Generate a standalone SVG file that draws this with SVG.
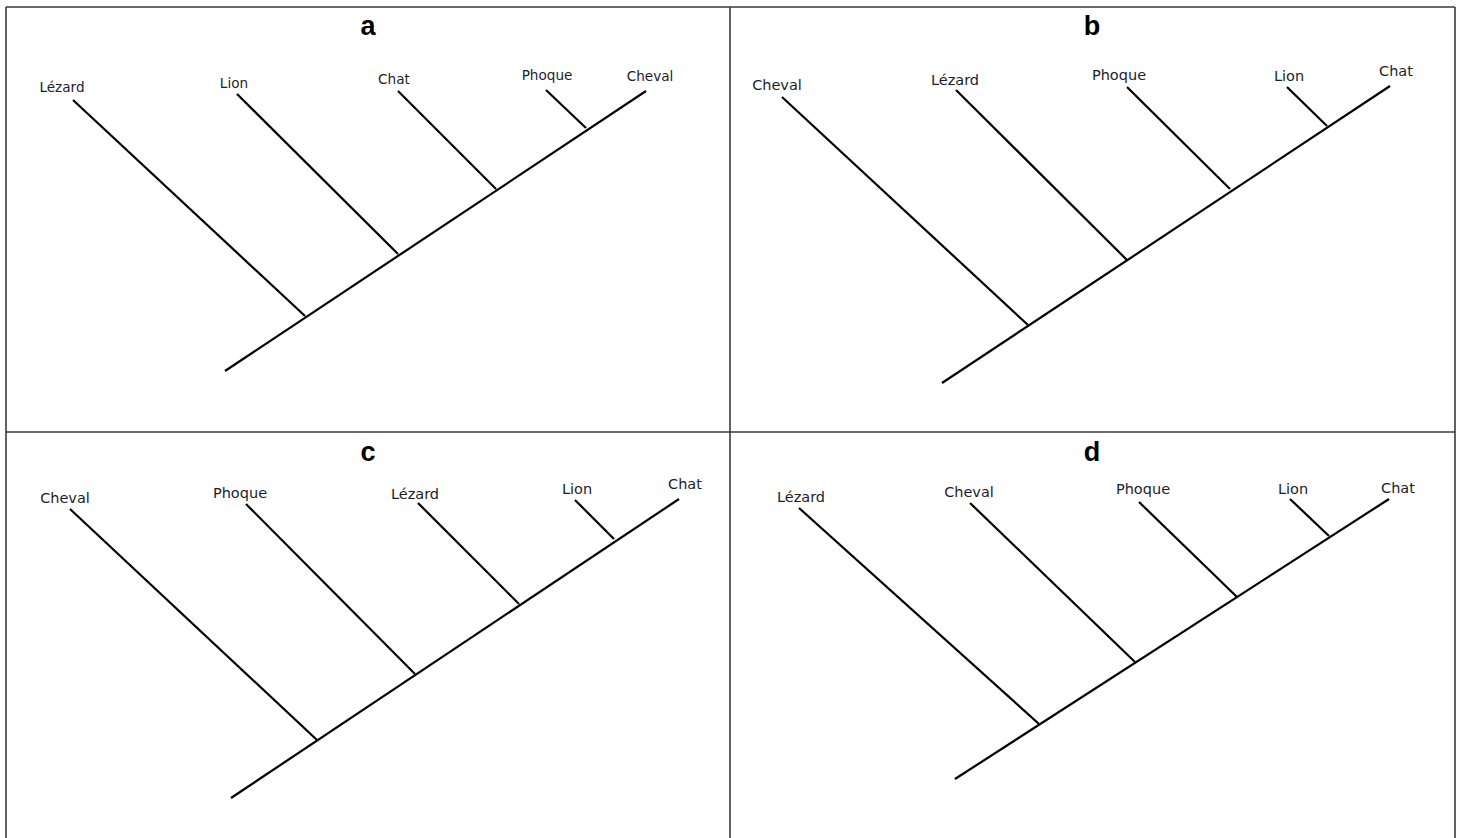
<svg xmlns="http://www.w3.org/2000/svg" width="1461" height="838" viewBox="0 0 1461 838">
  <style>
    .grid { stroke: #3a3a3a; stroke-width: 1.6; fill: none; }
    .br { stroke: #000; stroke-width: 2.2; stroke-linecap: butt; fill: none; }
    .lbl { font-family: "DejaVu Sans", Verdana, sans-serif; fill: #1c1c2a; text-anchor: middle; }
    .s13 { font-size: 13.6px; }
    .s14 { font-size: 14.5px; }
    .ttl { font-family: "Liberation Sans", Arial, sans-serif; font-weight: bold; font-size: 27px; fill: #000; text-anchor: middle; }
  </style>
  <rect width="1461" height="838" fill="#fff"/>

  <!-- table frame -->
  <g id="frame" class="grid">
    <line x1="6" y1="7" x2="1455" y2="7"/>
    <line x1="6" y1="432" x2="1455" y2="432"/>
    <line x1="6" y1="7" x2="6" y2="838"/>
    <line x1="730" y1="7" x2="730" y2="838"/>
    <line x1="1455" y1="7" x2="1455" y2="838"/>
  </g>

  <!-- tree a -->
  <g id="tree-a">
    <text class="ttl" x="368" y="35">a</text>
    <g class="br">
      <line x1="225" y1="371" x2="646" y2="91"/>
      <line x1="73" y1="100" x2="305" y2="316"/>
      <line x1="237" y1="94" x2="398" y2="254"/>
      <line x1="398" y1="91" x2="496" y2="189"/>
      <line x1="546" y1="90" x2="586" y2="128"/>
    </g>
    <text class="lbl s13" x="62" y="92">Lézard</text>
    <text class="lbl s13" x="234" y="88">Lion</text>
    <text class="lbl s13" x="394" y="84">Chat</text>
    <text class="lbl s13" x="547" y="80">Phoque</text>
    <text class="lbl s13" x="650" y="81">Cheval</text>
  </g>

  <!-- tree b -->
  <g id="tree-b">
    <text class="ttl" x="1092" y="35">b</text>
    <g class="br">
      <line x1="942" y1="383" x2="1390" y2="86"/>
      <line x1="782" y1="97" x2="1028" y2="325"/>
      <line x1="956" y1="90" x2="1127" y2="260"/>
      <line x1="1127" y1="87" x2="1230" y2="189"/>
      <line x1="1287" y1="87" x2="1327" y2="126"/>
    </g>
    <text class="lbl s14" x="777" y="90">Cheval</text>
    <text class="lbl s14" x="955" y="85">Lézard</text>
    <text class="lbl s14" x="1119" y="80">Phoque</text>
    <text class="lbl s14" x="1289" y="81">Lion</text>
    <text class="lbl s14" x="1396" y="76">Chat</text>
  </g>

  <!-- tree c -->
  <g id="tree-c">
    <text class="ttl" x="368" y="461">c</text>
    <g class="br">
      <line x1="231" y1="798" x2="679" y2="499"/>
      <line x1="70" y1="509" x2="317" y2="740"/>
      <line x1="246" y1="504" x2="415" y2="674"/>
      <line x1="418" y1="503" x2="519" y2="604"/>
      <line x1="575" y1="500" x2="614" y2="539"/>
    </g>
    <text class="lbl s14" x="65" y="503">Cheval</text>
    <text class="lbl s14" x="240" y="498">Phoque</text>
    <text class="lbl s14" x="415" y="499">Lézard</text>
    <text class="lbl s14" x="577" y="494">Lion</text>
    <text class="lbl s14" x="685" y="489">Chat</text>
  </g>

  <!-- tree d -->
  <g id="tree-d">
    <text class="ttl" x="1092" y="461">d</text>
    <g class="br">
      <line x1="955" y1="779" x2="1389" y2="499"/>
      <line x1="799" y1="508" x2="1039" y2="724"/>
      <line x1="970" y1="503" x2="1135" y2="662"/>
      <line x1="1139" y1="502" x2="1237" y2="597"/>
      <line x1="1290" y1="499" x2="1329" y2="536"/>
    </g>
    <text class="lbl s14" x="801" y="502">Lézard</text>
    <text class="lbl s14" x="969" y="497">Cheval</text>
    <text class="lbl s14" x="1143" y="494">Phoque</text>
    <text class="lbl s14" x="1293" y="494">Lion</text>
    <text class="lbl s14" x="1398" y="493">Chat</text>
  </g>
</svg>
